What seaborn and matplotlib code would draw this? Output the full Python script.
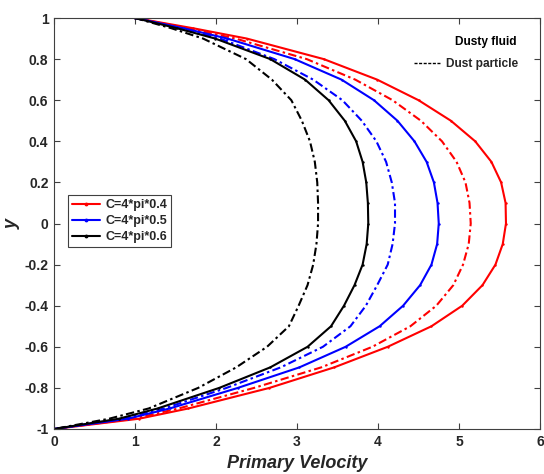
import matplotlib
matplotlib.use("Agg")
import matplotlib.pyplot as plt
import seaborn as sns
import pandas as pd
from matplotlib.lines import Line2D

# ---- data ----
y_vals = [1, 0.95, 0.9, 0.8, 0.7, 0.6, 0.5, 0.4, 0.3, 0.2, 0.1, 0,
          -0.1, -0.2, -0.3, -0.4, -0.5, -0.6, -0.7, -0.8, -0.9, -0.95, -1]

red_fluid = [1.0, 1.72, 2.38, 3.33, 3.99, 4.50, 4.90, 5.20, 5.40, 5.52, 5.575, 5.58,
             5.54, 5.45, 5.29, 5.04, 4.66, 4.12, 3.46, 2.66, 1.66, 1.05, 0.0]
red_dust = [1.0, 1.65, 2.24, 3.12, 3.72, 4.18, 4.53, 4.79, 4.97, 5.08, 5.13, 5.145,
            5.12, 5.05, 4.93, 4.72, 4.40, 3.93, 3.30, 2.47, 1.54, 0.98, 0.0]
blue_fluid = [1.0, 1.60, 2.14, 2.97, 3.55, 3.95, 4.24, 4.45, 4.60, 4.69, 4.735, 4.75,
              4.73, 4.66, 4.52, 4.31, 4.02, 3.60, 3.03, 2.27, 1.43, 0.91, 0.0]
blue_dust = [1.0, 1.55, 2.05, 2.72, 3.20, 3.56, 3.80, 3.98, 4.10, 4.17, 4.21, 4.21,
             4.18, 4.12, 3.99, 3.85, 3.66, 3.32, 2.80, 2.13, 1.36, 0.86, 0.0]
black_fluid = [1.0, 1.52, 1.99, 2.67, 3.10, 3.39, 3.59, 3.73, 3.81, 3.855, 3.875, 3.88,
               3.86, 3.81, 3.71, 3.58, 3.42, 3.13, 2.67, 2.04, 1.28, 0.80, 0.0]
black_dust = [1.0, 1.45, 1.84, 2.37, 2.69, 2.93, 3.06, 3.16, 3.22, 3.25, 3.26, 3.26,
              3.24, 3.20, 3.13, 3.02, 2.90, 2.63, 2.25, 1.78, 1.17, 0.68, 0.0]

labels = ["C=4*pi*0.4", "C=4*pi*0.5", "C=4*pi*0.6"]
colors = ["#ff0000", "#0000ff", "#000000"]
x_ticks = [0, 1, 2, 3, 4, 5, 6]
y_ticks = [-1, -0.8, -0.6, -0.4, -0.2, 0, 0.2, 0.4, 0.6, 0.8, 1]
y_ticklabels = ["-1", "-0.8", "-0.6", "-0.4", "-0.2", "0", "0.2", "0.4", "0.6", "0.8", "1"]

sns.set_theme(style="white")
plt.rcParams['font.family'] = ['Liberation Sans', 'DejaVu Sans']

fig = plt.figure(figsize=(5.44, 4.74), dpi=100)
ax = fig.add_axes([54/544, 1-429/474, 486/544, 411/474])

fluids = [red_fluid, blue_fluid, black_fluid]
dusts = [red_dust, blue_dust, black_dust]
for fl, du, c, lab in zip(fluids, dusts, colors, labels):
    df = pd.DataFrame({"u": fl, "y": y_vals})
    sns.lineplot(data=df, x="u", y="y", sort=False, estimator=None, ax=ax,
                 color=c, lw=1.5, marker='.', markersize=3.5, markeredgewidth=0,
                 legend=False)
    dd = pd.DataFrame({"u": du, "y": y_vals})
    sns.lineplot(data=dd, x="u", y="y", sort=False, estimator=None, ax=ax,
                 color=c, lw=1.5, legend=False)
    ax.lines[-1].set_dashes((4, 1.6, 1.2, 1.6))

ax.set_xlim(0, 6)
ax.set_ylim(-1, 1)
ax.set_xticks(x_ticks)
ax.set_xticklabels([str(t) for t in x_ticks])
ax.set_yticks(y_ticks)
ax.set_yticklabels(y_ticklabels)
for sp in ax.spines.values():
    sp.set_visible(True)
    sp.set_color("#404040")
    sp.set_linewidth(0.8)
ax.tick_params(direction="in", length=4, width=0.8, color="#404040",
               top=True, right=True, bottom=True, left=True,
               labelsize=10, labelcolor="#262626", pad=4)
for t in ax.get_xticklabels() + ax.get_yticklabels():
    t.set_fontweight("bold")

ax.set_xlabel("Primary Velocity", fontsize=13, fontweight="bold", style="italic",
              color="#262626", labelpad=5)
ax.set_ylabel("y", fontsize=13, fontweight="bold", style="italic",
              color="#262626", labelpad=3)

handles = [Line2D([], [], color=c, lw=1.5, marker='.', markersize=3.5) for c in colors]
leg1 = ax.legend(handles, labels, loc="upper left", bbox_to_anchor=(0.0288, 0.569),
                 frameon=True, fancybox=False, edgecolor="#404040", framealpha=1,
                 prop={"weight": "bold", "size": 9}, handlelength=2.3,
                 handletextpad=0.4, borderpad=0.3, labelspacing=0.33,
                 borderaxespad=0)
leg1.get_frame().set_linewidth(0.8)
ax.add_artist(leg1)

h2 = [Line2D([], [], color="black", lw=1, ls=(0, (2.2, 1.1)))]
leg2 = ax.legend(h2, ["Dust particle"], loc="center left",
                 bbox_to_anchor=(0.7407, 0.888), frameon=False,
                 prop={"weight": "bold", "size": 8.6}, handlelength=2.27,
                 handletextpad=0.42, borderpad=0, borderaxespad=0)
ax.text(0.825, 0.9416, "Dusty fluid", transform=ax.transAxes, ha="left", va="center",
        fontsize=8.6, fontweight="bold", color="black")

fig.savefig("out.png", dpi=100)
